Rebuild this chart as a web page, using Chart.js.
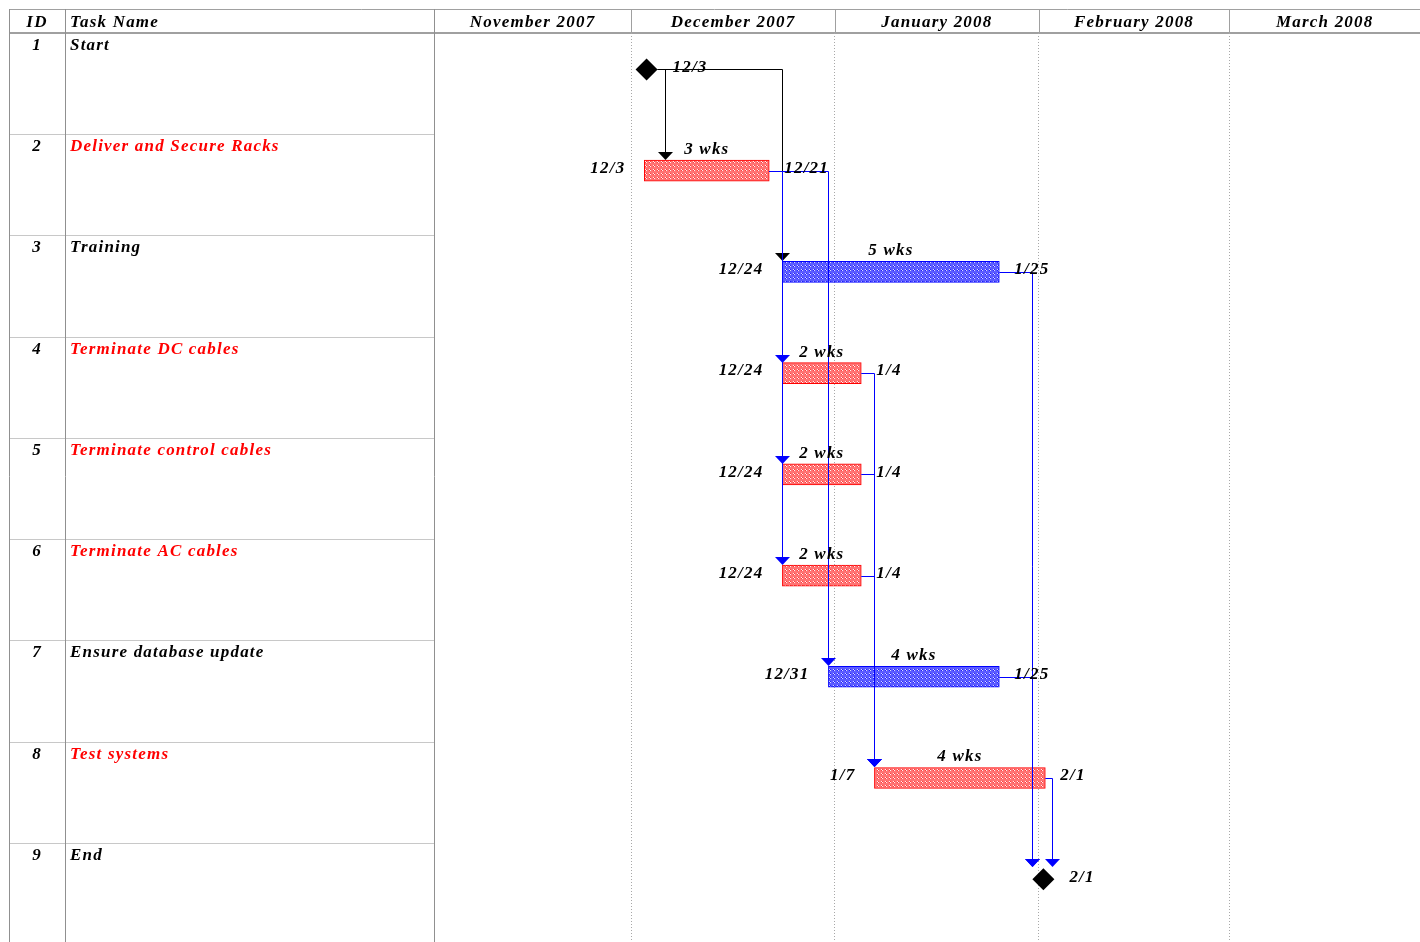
<!DOCTYPE html>
<html>
<head>
<meta charset="utf-8">
<title>Rack installation schedule</title>
<script src="https://cdn.jsdelivr.net/npm/chart.js@4.4.1/dist/chart.umd.min.js"></script>
<style>
    html, body { margin: 0; padding: 0; background: #fff; overflow: hidden; }
    #wrap { position: relative; width: 1420px; height: 944px; }
</style>
</head>
<body>
<div id="wrap"><canvas id="gantt"></canvas></div>
<script>
// ---- data ----
const taskIds = [1, 2, 3, 4, 5, 6, 7, 8, 9];
const taskNames = [
    "Start",
    "Deliver and Secure Racks",
    "Training",
    "Terminate DC cables",
    "Terminate control cables",
    "Terminate AC cables",
    "Ensure database update",
    "Test systems",
    "End"
];
const taskStarts = [
    "2007-12-03T08:00",
    "2007-12-03",
    "2007-12-24",
    "2007-12-24",
    "2007-12-24",
    "2007-12-24",
    "2007-12-31",
    "2008-01-07",
    "2008-02-01T17:00"
];
const taskFinishes = [
    "2007-12-03",
    "2007-12-21",
    "2008-01-25",
    "2008-01-04",
    "2008-01-04",
    "2008-01-04",
    "2008-01-25",
    "2008-02-01",
    "2008-02-01"
];
const durationWeeks = [0, 3, 5, 2, 2, 2, 4, 4, 0];
const isCritical = [false, true, false, true, true, true, false, true, false];
const isMilestone = [true, false, false, false, false, false, false, false, true];

// predecessor -> successor (task ids)
const linkFrom = [1, 1, 2, 2, 2, 2, 3, 4, 5, 6, 7, 8];
const linkTo = [2, 3, 4, 5, 6, 7, 9, 8, 8, 8, 9, 9];

const monthLabels = ["November 2007", "December 2007", "January 2008", "February 2008", "March 2008"];
const monthStarts = ["2007-11-01", "2007-12-01", "2008-01-01", "2008-02-01", "2008-03-01", "2008-04-01"];
const viewStart = "2007-11-01";
const viewEnd = "2008-03-30";

// ---- layout ----
const TABLE_LEFT = 9;
const ID_RIGHT = 65;
const HEADER_TOP = 9;
const ROW_BAR = 0.36;     // bar centre inside a row (fraction of row)
const BAR_H = 21;
const DIAMOND = 11;
const FONT = "italic bold 17px 'Liberation Serif', 'Times New Roman', serif";
const SPACING = "1.2px";

function dayOf(s) {
    const [d, t] = s.split("T");
    const [yy, mm, dd] = d.split("-").map(Number);
    let v = (Date.UTC(yy, mm - 1, dd) - Date.UTC(2007, 10, 1)) / 864e5;
    if (t) {
        const [h, mi] = t.split(":").map(Number);
        v += (h + mi / 60) / 24;
    }
    return v;
}

function shortDate(s) {
    const [yy, mm, dd] = s.split("T")[0].split("-").map(Number);
    return mm + "/" + dd;
}

const canvas = document.getElementById("gantt");
const ctx2d = canvas.getContext("2d");

function makePattern(base, light, dark) {
    const c = document.createElement("canvas");
    c.width = 4;
    c.height = 4;
    const g = c.getContext("2d");
    g.fillStyle = base;
    g.fillRect(0, 0, 4, 4);
    g.fillStyle = light;
    g.fillRect(1, 1, 1, 1);
    g.fillRect(2, 2, 1, 1);
    g.fillStyle = dark;
    g.fillRect(1, 2, 1, 1);
    g.fillRect(2, 1, 1, 1);
    return ctx2d.createPattern(c, "repeat");
}

const redFill = makePattern("#ff7474", "#fff0f0", "#ff3c3c");
const blueFill = makePattern("#5c5cff", "#d8d8ff", "#2020ff");

const barData = [];
const milestoneData = [];
taskIds.forEach((id, i) => {
    if (isMilestone[i]) {
        milestoneData.push({ x: dayOf(taskStarts[i]), y: i + ROW_BAR, task: i });
    } else {
        barData.push({ x: [dayOf(taskStarts[i]), dayOf(taskFinishes[i]) + 1], y: i + ROW_BAR, task: i });
    }
});

function barEnds(i, x) {
    if (isMilestone[i]) {
        const c = x.getPixelForValue(dayOf(taskStarts[i]));
        return [c - DIAMOND, c + DIAMOND];
    }
    return [x.getPixelForValue(dayOf(taskStarts[i])), x.getPixelForValue(dayOf(taskFinishes[i]) + 1)];
}

function line(ctx, x1, y1, x2, y2) {
    ctx.beginPath();
    ctx.moveTo(x1, y1);
    ctx.lineTo(x2, y2);
    ctx.stroke();
}

const ganttDecor = {
    id: "ganttDecor",

    beforeDraw(chart) {
        const { ctx, scales: { x, y } } = chart;
        const W = chart.width;
        const H = chart.height;
        const headBottom = y.top;

        ctx.save();
        ctx.fillStyle = "#ffffff";
        ctx.fillRect(0, 0, W, H);

        // row separators in the table
        ctx.strokeStyle = "#c8c8c8";
        ctx.lineWidth = 1;
        for (let r = 1; r < taskIds.length; r++) {
            const py = Math.round(y.getPixelForValue(r)) + 0.5;
            line(ctx, TABLE_LEFT, py, x.left, py);
        }

        // header frame
        ctx.strokeStyle = "#a0a0a0";
        line(ctx, TABLE_LEFT, HEADER_TOP + 0.5, W, HEADER_TOP + 0.5);
        ctx.lineWidth = 2;
        line(ctx, TABLE_LEFT, headBottom, W, headBottom);
        ctx.lineWidth = 1;

        // table columns
        ctx.strokeStyle = "#909090";
        [TABLE_LEFT, ID_RIGHT, Math.round(x.left)].forEach(cx => {
            line(ctx, cx + 0.5, HEADER_TOP, cx + 0.5, H);
        });

        // month separators in the header
        ctx.strokeStyle = "#a0a0a0";
        monthStarts.slice(1).forEach(m => {
            const px = Math.round(x.getPixelForValue(dayOf(m))) + 0.5;
            if (px < W) line(ctx, px, HEADER_TOP, px, headBottom);
        });

        ctx.font = FONT;
        ctx.letterSpacing = SPACING;
        ctx.fillStyle = "#000";
        ctx.textBaseline = "alphabetic";
        const headY = HEADER_TOP + 18;

        ctx.textAlign = "center";
        ctx.fillText("ID", (TABLE_LEFT + ID_RIGHT) / 2, headY);
        ctx.textAlign = "left";
        ctx.fillText("Task Name", ID_RIGHT + 5, headY);

        ctx.textAlign = "center";
        monthLabels.forEach((lab, k) => {
            const a = x.getPixelForValue(dayOf(monthStarts[k]));
            const b = Math.min(x.right, x.getPixelForValue(dayOf(monthStarts[k + 1])));
            ctx.fillText(lab, (a + b) / 2, headY);
        });

        // table rows
        taskIds.forEach((id, i) => {
            const ty = y.getPixelForValue(i) + 17;
            ctx.fillStyle = "#000";
            ctx.textAlign = "center";
            ctx.fillText(String(id), (TABLE_LEFT + ID_RIGHT) / 2, ty);
            ctx.fillStyle = isCritical[i] ? "#ff0000" : "#000";
            ctx.textAlign = "left";
            ctx.fillText(taskNames[i], ID_RIGHT + 5, ty);
        });
        ctx.restore();
    },

    afterDatasetsDraw(chart) {
        const { ctx, scales: { x, y } } = chart;
        ctx.save();

        // dependency links
        ctx.lineWidth = 1;
        linkFrom.forEach((from, k) => {
            const a = from - 1;
            const b = linkTo[k] - 1;
            const ay = Math.round(y.getPixelForValue(a + ROW_BAR)) + 0.5;
            const aEnd = barEnds(a, x)[1];
            const bStart = barEnds(b, x)[0];
            const vx = Math.round(Math.max(bStart, aEnd + 7)) + 0.5;
            const bTop = Math.round(y.getPixelForValue(b + ROW_BAR) - (isMilestone[b] ? DIAMOND + 1 : BAR_H / 2));
            const col = isMilestone[a] ? "#000000" : "#0000ff";
            ctx.strokeStyle = col;
            ctx.fillStyle = col;
            ctx.beginPath();
            ctx.moveTo(aEnd, ay);
            ctx.lineTo(vx, ay);
            ctx.lineTo(vx, bTop - 7);
            ctx.stroke();
            ctx.beginPath();
            ctx.moveTo(vx - 7.5, bTop - 8);
            ctx.lineTo(vx + 7.5, bTop - 8);
            ctx.lineTo(vx, bTop);
            ctx.closePath();
            ctx.fill();
        });

        // date and duration labels
        ctx.font = FONT;
        ctx.letterSpacing = SPACING;
        ctx.fillStyle = "#000";
        taskIds.forEach((id, i) => {
            const cy = y.getPixelForValue(i + ROW_BAR);
            const [s, e] = barEnds(i, x);
            ctx.textBaseline = "middle";
            if (isMilestone[i]) {
                ctx.textAlign = "left";
                ctx.fillText(shortDate(taskStarts[i]), (s + e) / 2 + 26, cy - 2);
                return;
            }
            ctx.textAlign = "right";
            ctx.fillText(shortDate(taskStarts[i]), s - 19, cy - 2);
            ctx.textAlign = "left";
            ctx.fillText(shortDate(taskFinishes[i]), e + 15, cy - 2);
            ctx.textAlign = "center";
            ctx.textBaseline = "alphabetic";
            ctx.fillText(durationWeeks[i] + " wks", (s + e) / 2, cy - BAR_H / 2 - 6);
        });
        ctx.restore();
    }
};

new Chart(canvas, {
    type: "bar",

    data: {
        datasets: [
            {
                type: "bar",
                indexAxis: "y",
                data: barData,
                barThickness: BAR_H,
                borderWidth: 1,
                borderSkipped: false,
                borderColor: ctx => isCritical[ctx.raw.task] ? "#ff0000" : "#0000ff",
                backgroundColor: ctx => isCritical[ctx.raw.task] ? redFill : blueFill
            },
            {
                type: "scatter",
                data: milestoneData,
                pointStyle: "rectRot",
                pointRadius: DIAMOND,
                pointBorderWidth: 0,
                backgroundColor: "#000000",
                borderColor: "#000000"
            }
        ]
    },

    options: {
        responsive: true,
        maintainAspectRatio: false,
        animation: false,
        events: [],

        layout: {
            autoPadding: false,
            padding: { left: 434, top: 33, right: 0, bottom: 0 }
        },

        plugins: {
            legend: { display: false },
            tooltip: { enabled: false }
        },

        scales: {
            x: {
                type: "linear",
                position: "bottom",
                offset: false,
                min: dayOf(viewStart),
                max: dayOf(viewEnd),
                afterBuildTicks: scale => {
                    scale.ticks = monthStarts
                        .map(m => ({ value: dayOf(m) }))
                        .filter(t => t.value <= scale.max);
                },
                afterFit: scale => { scale.height = 0; },
                ticks: { display: false },
                grid: {
                    offset: false,
                    drawTicks: false,
                    color: c => (c.tick && c.tick.value === dayOf(viewStart)) ? "rgba(0,0,0,0)" : "#a8a8a8",
                    lineWidth: 1
                },
                border: { display: false, dash: [1, 2] }
            },

            y: {
                type: "linear",
                offset: false,
                min: 0,
                max: taskIds.length,
                reverse: true,
                display: false,
                grid: { offset: false }
            }
        }
    },

    plugins: [ganttDecor]
});
</script>
</body>
</html>
